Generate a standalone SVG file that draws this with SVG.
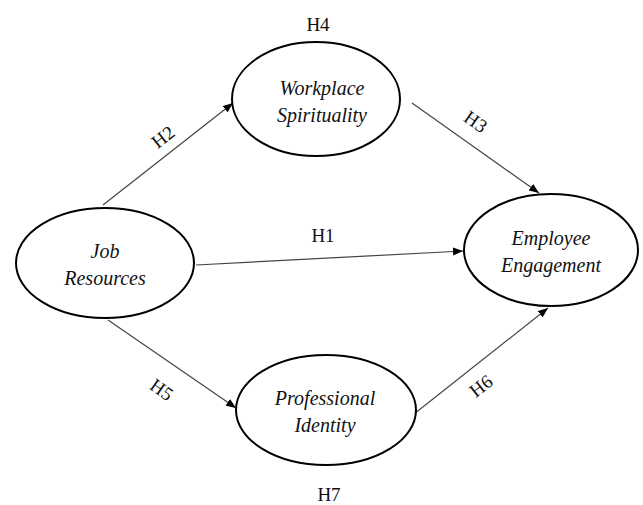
<svg xmlns="http://www.w3.org/2000/svg" width="643" height="505" viewBox="0 0 643 505">
<style>
.node ellipse{fill:#fff;stroke:#000;stroke-width:2}
.node text{font-family:"Liberation Serif",serif;font-style:italic;font-size:20px;fill:#111;text-anchor:middle}
.conn line{stroke:#444;stroke-width:1.2}
.lbl{font-family:"Liberation Serif",serif;font-size:19px;fill:#111;text-anchor:middle}
</style>
<defs>
<marker id="arr" viewBox="0 0 10 8" refX="10" refY="4" markerWidth="10" markerHeight="8" markerUnits="userSpaceOnUse" orient="auto">
<path d="M0,0 L10,4 L0,8 Z" fill="#000"/>
</marker>
</defs>
<rect width="643" height="505" fill="#fff"/>
<g id="connectors" class="conn">
<line x1="103" y1="205" x2="233" y2="103" marker-end="url(#arr)"/>
<line x1="412" y1="103" x2="539" y2="193" marker-end="url(#arr)"/>
<line x1="196" y1="265" x2="463" y2="251" marker-end="url(#arr)"/>
<line x1="108" y1="320" x2="236" y2="408" marker-end="url(#arr)"/>
<line x1="414" y1="414" x2="548" y2="308" marker-end="url(#arr)"/>
</g>
<g id="labels">
<text class="lbl" x="318" y="31">H4</text>
<text class="lbl" x="323" y="242">H1</text>
<text class="lbl" x="329" y="501">H7</text>
<text class="lbl" transform="translate(167,142) rotate(-38)">H2</text>
<text class="lbl" transform="translate(472,127) rotate(35)">H3</text>
<text class="lbl" transform="translate(158,395) rotate(35)">H5</text>
<text class="lbl" transform="translate(485,391) rotate(-38)">H6</text>
</g>
<g id="job-resources" class="node">
<ellipse cx="105" cy="263" rx="89" ry="55"/>
<text x="105" y="258">Job</text>
<text x="105" y="285">Resources</text>
</g>
<g id="workplace-spirituality" class="node">
<ellipse cx="316" cy="99" rx="84" ry="57"/>
<text x="322" y="95">Workplace</text>
<text x="322" y="122">Spirituality</text>
</g>
<g id="employee-engagement" class="node">
<ellipse cx="551" cy="250" rx="87" ry="56"/>
<text x="551" y="245">Employee</text>
<text x="551" y="272">Engagement</text>
</g>
<g id="professional-identity" class="node">
<ellipse cx="326" cy="410" rx="90" ry="55"/>
<text x="325" y="405">Professional</text>
<text x="325" y="432">Identity</text>
</g>
</svg>
